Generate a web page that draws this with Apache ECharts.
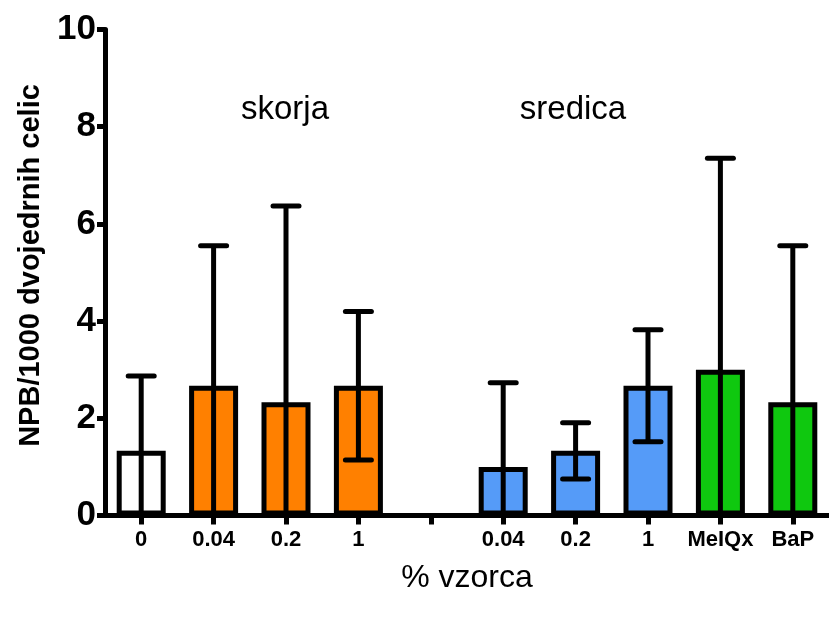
<!DOCTYPE html>
<html>
<head>
<meta charset="utf-8">
<script src="https://cdn.jsdelivr.net/npm/echarts@6/dist/echarts.min.js"></script>
<style>
html,body{margin:0;padding:0;background:#fff;}
#chart{width:829px;height:619px;}
</style>
</head>
<body>
<div id="chart"></div>
<script>
// Data
var categories = ['0', '0.04', '0.2', '1', '', '0.04', '0.2', '1', 'MeIQx', 'BaP'];
var means = [1.33, 2.67, 2.33, 2.67, null, 1.0, 1.33, 2.67, 3.0, 2.33];
var errors = [1.54, 2.88, 4.04, 1.53, null, 1.73, 0.58, 1.15, 4.35, 3.22];
var fills = ['#ffffff', '#ff8000', '#ff8000', '#ff8000', '#ffffff', '#559bf8', '#559bf8', '#559bf8', '#0fc80f', '#0fc80f'];
var yTicks = { min: 0, max: 10, interval: 2 };
var groupLabels = ['skorja', 'sredica'];

var chart = echarts.init(document.getElementById('chart'), null, { renderer: 'canvas' });

var barData = means.map(function (m, i) {
  return { value: m, itemStyle: { color: fills[i] } };
});
var errData = [];
means.forEach(function (m, i) {
  if (m !== null) errData.push([i, m, errors[i]]);
});

var FONT = 'Liberation Sans, Arial, sans-serif';

var option = {
  backgroundColor: '#ffffff',
  animation: false,
  grid: { left: 105, right: 0, top: 29.5, bottom: 103.5, outerBoundsMode: 'none' },
  xAxis: {
    type: 'category',
    z: 5,
    data: categories,
    name: '% vzorca',
    nameLocation: 'middle',
    nameGap: 47,
    nameTextStyle: { fontFamily: FONT, fontSize: 32, color: '#000' },
    axisLine: { show: true, lineStyle: { color: '#000', width: 5 } },
    axisTick: { show: true, alignWithLabel: true, interval: 0, length: 9, lineStyle: { color: '#000', width: 5 } },
    axisLabel: { interval: 0, margin: 13, fontFamily: FONT, fontWeight: 'bold', fontSize: 22, color: '#000' },
    splitLine: { show: false }
  },
  yAxis: {
    type: 'value',
    z: 5,
    min: yTicks.min,
    max: yTicks.max,
    interval: yTicks.interval,
    name: 'NPB/1000 dvojedrnih celic',
    nameLocation: 'middle',
    nameGap: 60,
    nameTextStyle: { fontFamily: FONT, fontWeight: 'bold', fontSize: 29, color: '#000', padding: [0, 0, 0, 14] },
    axisLine: { show: true, lineStyle: { color: '#000', width: 5 } },
    axisTick: { show: true, length: 8, lineStyle: { color: '#000', width: 5 } },
    axisLabel: { margin: 9, fontFamily: FONT, fontWeight: 'bold', fontSize: 35, color: '#000' },
    splitLine: { show: false }
  },
  graphic: [
    { type: 'text', x: 285, y: 110, style: { text: groupLabels[0], fontFamily: FONT, fontSize: 33, fill: '#000', textAlign: 'center', textVerticalAlign: 'middle' } },
    { type: 'text', x: 573, y: 110, style: { text: groupLabels[1], fontFamily: FONT, fontSize: 33, fill: '#000', textAlign: 'center', textVerticalAlign: 'middle' } }
  ],
  series: [
    {
      type: 'bar',
      data: barData,
      barWidth: 49,
      itemStyle: { borderColor: '#000', borderWidth: 5 },
      z: 2
    },
    {
      type: 'custom',
      data: errData,
      z: 3,
      renderItem: function (params, api) {
        var idx = api.value(0), m = api.value(1), e = api.value(2);
        var top = api.coord([idx, m + e]);
        var lowV = Math.max(0, m - e);
        var bot = api.coord([idx, lowV]);
        var half = 13;
        var st = { stroke: '#000', lineWidth: 5, lineCap: 'round' };
        var children = [
          { type: 'line', shape: { x1: top[0], y1: top[1], x2: bot[0], y2: bot[1] }, style: { stroke: '#000', lineWidth: 5 } },
          { type: 'line', shape: { x1: top[0] - half, y1: top[1], x2: top[0] + half, y2: top[1] }, style: st }
        ];
        if (m - e > 0) {
          children.push({ type: 'line', shape: { x1: bot[0] - half, y1: bot[1], x2: bot[0] + half, y2: bot[1] }, style: st });
        }
        return { type: 'group', children: children };
      }
    }
  ]
};
chart.setOption(option);
</script>
</body>
</html>
